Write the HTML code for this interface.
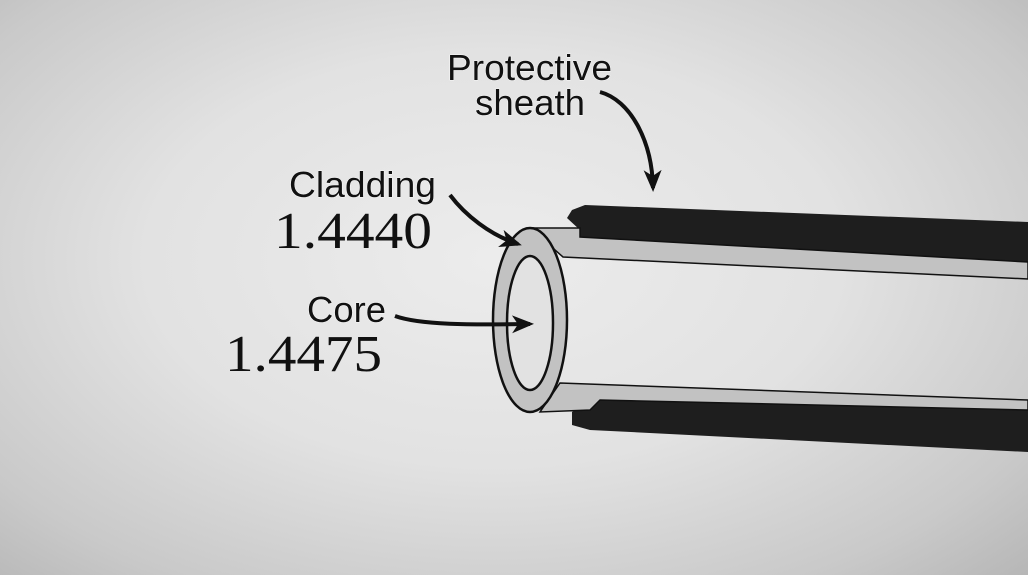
<!DOCTYPE html>
<html><head><style>
html,body{margin:0;padding:0;}
body{width:1028px;height:575px;overflow:hidden;background:radial-gradient(ellipse 75% 80% at 48% 45%,#ececec 0%,#e2e2e2 45%,#c9c9c9 80%,#b4b4b4 100%);}
svg{position:absolute;left:0;top:0}
</style></head><body>
<svg width="1028" height="575" viewBox="0 0 1028 575">
<defs><marker id="ah" markerWidth="22" markerHeight="18" refX="18" refY="9" orient="auto" markerUnits="userSpaceOnUse" viewBox="0 0 22 18"><path d="M0,0 L22,9 L0,18 L6,9 Z" fill="#111"/></marker></defs>
<!-- top sheath -->
<path d="M567,218 L572,210 L585,205 L1028,222 L1028,262 L580,237 L580,230 Z" fill="#1e1e1e"/>
<!-- top cladding band -->
<path d="M530,228 L580,228 L580,237 L1028,262 L1028,279 L563,257 Z" fill="#c2c2c2" stroke="#111" stroke-width="1.5"/>
<!-- bottom sheath -->
<path d="M592,400 L1028,410 L1028,452 L590,430 L572,425 L572,412 Z" fill="#1e1e1e"/>
<!-- bottom cladding band -->
<path d="M560,383 L1028,400 L1028,410 L600,400 L590,410 L540,412 Z" fill="#c2c2c2" stroke="#111" stroke-width="1.5"/>
<!-- ring -->
<ellipse cx="530" cy="320" rx="37" ry="92" fill="#c2c2c2" stroke="#111" stroke-width="2.5"/>
<ellipse cx="530" cy="323" rx="23" ry="67" fill="#e2e2e2" stroke="#111" stroke-width="2.5"/>
<!-- arrows -->
<path d="M600,92 C630,100 652,140 653,188" fill="none" stroke="#111" stroke-width="4" marker-end="url(#ah)"/>
<path d="M450,195 C465,215 490,235 518,244" fill="none" stroke="#111" stroke-width="4" marker-end="url(#ah)"/>
<path d="M395,316 C420,325 470,325 530,324" fill="none" stroke="#111" stroke-width="4" marker-end="url(#ah)"/>
<g font-family="Liberation Sans, sans-serif" font-size="36" fill="#111" stroke="#fff" stroke-width="0.8" paint-order="stroke">
<text x="447" y="80" textLength="165" lengthAdjust="spacingAndGlyphs">Protective</text>
<text x="475" y="115" textLength="110" lengthAdjust="spacingAndGlyphs">sheath</text>
<text x="289" y="197" textLength="147" lengthAdjust="spacingAndGlyphs">Cladding</text>
<text x="307" y="322" textLength="79" lengthAdjust="spacingAndGlyphs">Core</text>
</g>
<g font-family="Liberation Serif, serif" font-size="52" fill="#111">
<text x="274" y="248" textLength="158" lengthAdjust="spacingAndGlyphs">1.4440</text>
<text x="225" y="371" textLength="157" lengthAdjust="spacingAndGlyphs">1.4475</text>
</g>
</svg>
</body></html>
